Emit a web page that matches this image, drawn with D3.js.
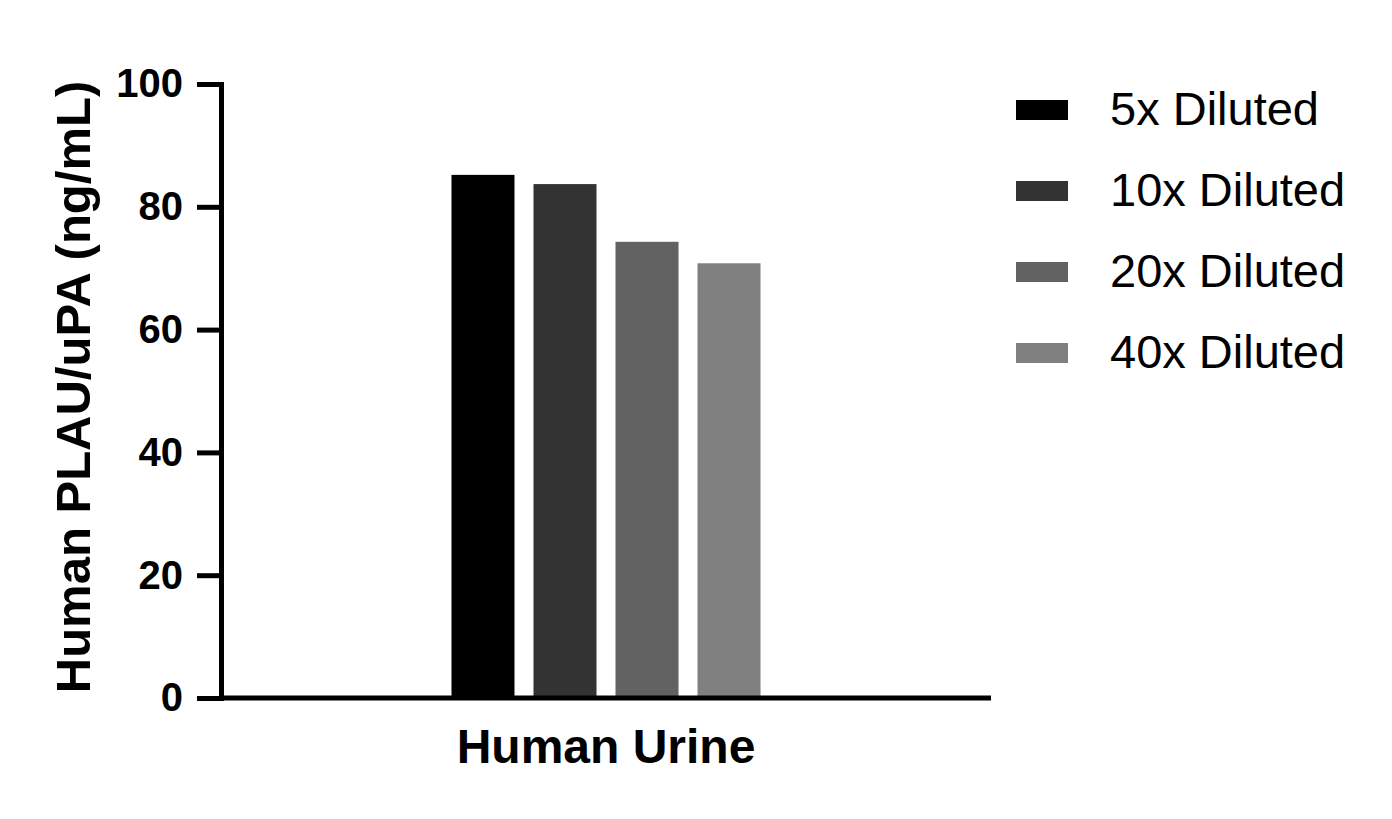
<!DOCTYPE html>
<html>
<head>
<meta charset="utf-8">
<script src="https://cdn.jsdelivr.net/npm/d3@7"></script>
<style>
  body { margin: 0; background: #fff; }
  svg { display: block; font-family: Arial, "Liberation Sans", sans-serif; }
  .yaxis .domain, .yaxis line { stroke: #000; stroke-width: 5; }
  .yaxis .domain { stroke-linecap: square; }
  .yaxis text { font-size: 40px; font-weight: bold; fill: #000; }
</style>
</head>
<body>
<div id="chart"></div>
<script>
// data
var groups = ["Human Urine"];
var series = ["5x Diluted", "10x Diluted", "20x Diluted", "40x Diluted"];
var values = [85.2, 83.7, 74.3, 70.8];
var colors = ["#000000", "#333333", "#626262", "#808080"];
var yTicks = [0, 20, 40, 60, 80, 100];

var W = 1392, H = 819;
var svg = d3.select("#chart").append("svg")
    .attr("width", W)
    .attr("height", H);

var y = d3.scaleLinear().domain([0, 100]).range([698, 84]);
var x0 = d3.scaleBand().domain(groups).range([221, 991]).padding(0.4025);
var x1 = d3.scaleBand().domain(series).range([0, x0.bandwidth()])
    .paddingInner(0.2317).paddingOuter(0.1159);

// bars
var g = svg.append("g")
  .selectAll("g")
  .data(groups)
  .enter().append("g")
  .attr("transform", function(d) { return "translate(" + x0(d) + ",0)"; });

g.selectAll("rect")
  .data(series)
  .enter().append("rect")
  .attr("x", function(d) { return x1(d); })
  .attr("y", function(d, i) { return y(values[i]); })
  .attr("width", x1.bandwidth())
  .attr("height", function(d, i) { return y(0) - y(values[i]); })
  .attr("fill", function(d, i) { return colors[i]; });

// y axis
svg.append("g")
  .attr("class", "yaxis")
  .attr("transform", "translate(221,0)")
  .call(d3.axisLeft(y).tickValues(yTicks).tickSize(24).tickSizeOuter(0).tickPadding(14));

// x axis line
svg.append("line")
  .attr("x1", 221).attr("x2", 991)
  .attr("y1", y(0)).attr("y2", y(0))
  .attr("stroke", "#000").attr("stroke-width", 5);

// x label
svg.append("text")
  .attr("x", x0(groups[0]) + x0.bandwidth() / 2)
  .attr("y", 763)
  .attr("text-anchor", "middle")
  .style("font-size", "48px").style("font-weight", "bold")
  .text(groups[0]);

// y title
svg.append("text")
  .attr("transform", "translate(90,387) rotate(-90)")
  .attr("text-anchor", "middle")
  .style("font-size", "49px").style("font-weight", "bold")
  .text("Human PLAU/uPA (ng/mL)");

// legend
var leg = svg.append("g").selectAll("g")
  .data(series)
  .enter().append("g")
  .attr("transform", function(d, i) { return "translate(1016," + (110 + i * 81) + ")"; });

leg.append("rect")
  .attr("x", 0).attr("y", -10)
  .attr("width", 52).attr("height", 20)
  .attr("fill", function(d, i) { return colors[i]; });

leg.append("text")
  .attr("x", 94).attr("y", 15)
  .style("font-size", "47px")
  .text(function(d) { return d; });
</script>
</body>
</html>
